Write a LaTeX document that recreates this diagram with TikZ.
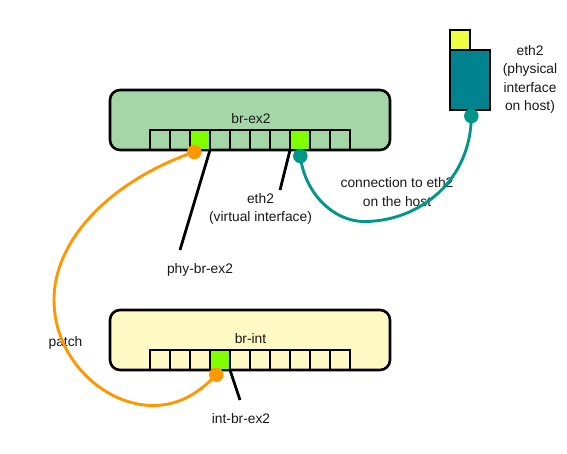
\documentclass[tikz,border=0pt]{standalone}
\usepackage{fontspec}
\setmainfont{Liberation Sans}
\tikzset{
 x=1pt,y=-1pt,
 bridge/.style={draw=black,line width=2.6pt,rounded corners=10pt,minimum width=280pt,minimum height=60pt,inner sep=0pt,outer sep=0pt,anchor=north west},
 portcell/.style={draw=black,line width=2.6pt,minimum width=20pt,minimum height=20pt,inner sep=0pt,outer sep=0pt,anchor=north west},
 active/.style={portcell,fill=ovsgreen},
 dot/.style={circle,inner sep=0pt,outer sep=0pt,minimum size=14.5pt,fill=#1},
 lbl/.style={font=\fontsize{13.8}{18.2}\selectfont,text=black!90,align=center,inner sep=0pt},
 leader/.style={draw=black,line width=2.8pt},
 wire/.style={line width=2.9pt,draw=#1},
}
\definecolor{ovsgreen}{HTML}{7FFF00}
\definecolor{exgreen}{HTML}{A5D6A7}
\definecolor{intyellow}{HTML}{FFF9C4}
\definecolor{hostteal}{HTML}{00838F}
\definecolor{nicyellow}{HTML}{EEFF41}
\definecolor{wireteal}{HTML}{009688}
\definecolor{wireorange}{HTML}{FF9800}
\begin{document}
\begin{tikzpicture}
\useasboundingbox[fill=white] (0,0) rectangle (567,453);
% bridges
\node[bridge,fill=exgreen] (brex) at (110,90) {};
\node[bridge,fill=intyellow] (brint) at (110,310) {};
\node[lbl] (brexl) at (251,119) {br-ex2};
\node[lbl] (brintl) at (250.5,339) {br-int};
% ports
\foreach \i in {0,...,9}{
  \node[portcell] (ex\i) at (150+20*\i,130) {};
  \node[portcell] (int\i) at (150+20*\i,350) {};
}
\node[active] (ex2g) at (190,130) {};
\node[active] (ex7g) at (290,130) {};
\node[active] (int3g) at (210,350) {};
% host nic
\node[portcell,fill=nicyellow] (nic) at (450,30) {};
\node[draw=black,line width=2.8pt,fill=hostteal,minimum width=40pt,minimum height=60pt,inner sep=0pt,outer sep=0pt,anchor=north west] (host) at (450,50) {};
% labels
\node[lbl] (l1) at (530,79.5) {eth2\\(physical\\interface\\on host)};
\node[lbl] (l2) at (397,192) {connection to eth2\\on the host};
\node[lbl] (l3) at (260.5,209) {eth2\\(virtual interface)};
\node[lbl] (l4) at (200,270) {phy-br-ex2};
\node[lbl] (l5) at (241,419) {int-br-ex2};
\node[lbl] (l6) at (65.5,342.5) {patch};
% leader ends
\coordinate (a1) at (180,250);
\coordinate (a2) at (280,190);
\coordinate (a3) at (240,400);
\draw[leader] (ex2g.south east) -- (a1);
\draw[leader] (ex7g.south west) -- (a2);
\draw[leader] (int3g.south east) -- (a3);
% dots
\node[dot=wireorange] (o1) at (194.3,152) {};
\node[dot=wireorange] (o2) at (216.3,374.7) {};
\node[dot=wireteal] (t1) at (300.3,156) {};
\node[dot=wireteal] (t2) at (471.3,116) {};
% wires
\draw[wire=wireorange] (o1.center) .. controls (118,178) and (54,235) .. (54,300)
   .. controls (54,360) and (105,405.5) .. (153,405.5)
   .. controls (180,405.5) and (200,392) .. (o2.center);
\draw[wire=wireteal] (t1.center) .. controls (305,195) and (335,221.5) .. (364,221.5)
   .. controls (420,221.5) and (471,180) .. (t2.center);
\end{tikzpicture}
\end{document}
